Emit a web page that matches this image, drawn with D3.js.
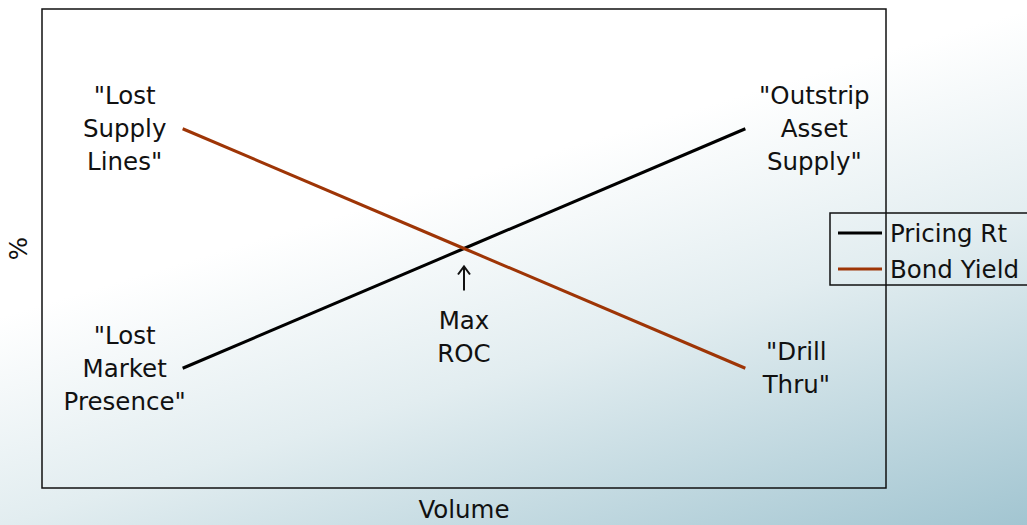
<!DOCTYPE html>
<html>
<head>
<meta charset="utf-8">
<script src="https://cdn.jsdelivr.net/npm/d3@7"></script>
<style>
  html, body { margin: 0; padding: 0; }
  svg { display: block; font-family: "DejaVu Sans", Verdana, sans-serif; }
</style>
</head>
<body>
<div id="chart"></div>
<script>
// Chart data
const volumes = ["low", "mid", "high"];
const pricingRt = [2.5, 5, 7.5];
const bondYield = [7.5, 5, 2.5];
const seriesNames = ["Pricing Rt", "Bond Yield"];
const seriesColors = ["#000000", "#9e3506"];

// Callout labels: anchored at a category/value, placed left / right / below
const callouts = [
  { text: ["\"Lost", "Supply", "Lines\""], cat: "low", val: 7.5, side: "left" },
  { text: ["\"Lost", "Market", "Presence\""], cat: "low", val: 2.5, side: "left" },
  { text: ["\"Outstrip", "Asset", "Supply\""], cat: "high", val: 7.5, side: "right" },
  { text: ["\"Drill", "Thru\""], cat: "high", val: 2.5, side: "right" },
  { text: ["Max", "ROC"], cat: "mid", val: 5, side: "below" }
];

const width = 1027, height = 525;
const margin = { top: 9, right: 141, bottom: 37, left: 42 };
const lineH = 33;
const fs = 24.5;

const svg = d3.select("#chart")
  .append("svg")
  .attr("width", width)
  .attr("height", height);

// Background gradient (white top, light blue toward bottom right)
const defs = svg.append("defs");
const grad = defs.append("linearGradient")
  .attr("id", "bg")
  .attr("gradientUnits", "userSpaceOnUse")
  .attr("x1", 0).attr("y1", 0)
  .attr("x2", 229).attr("y2", 765);
grad.append("stop").attr("offset", "0%").attr("stop-color", "#ffffff");
grad.append("stop").attr("offset", "38%").attr("stop-color", "#ffffff");
grad.append("stop").attr("offset", "63%").attr("stop-color", "#e2edf0");
grad.append("stop").attr("offset", "100%").attr("stop-color", "#a2c5d1");

svg.append("rect")
  .attr("width", width).attr("height", height)
  .attr("fill", "url(#bg)");

const x = d3.scalePoint()
  .domain(volumes)
  .range([margin.left, width - margin.right])
  .padding(0.5);

const y = d3.scaleLinear()
  .domain([0, 10])
  .range([height - margin.bottom, margin.top]);

// Plot frame
svg.append("rect")
  .attr("x", margin.left)
  .attr("y", margin.top)
  .attr("width", width - margin.left - margin.right)
  .attr("height", height - margin.top - margin.bottom)
  .attr("fill", "none")
  .attr("stroke", "#111")
  .attr("stroke-width", 1.5);

// Lines
const line = d3.line()
  .x((d, i) => x(volumes[i]))
  .y(d => y(d));

[pricingRt, bondYield].forEach((s, i) => {
  svg.append("path")
    .datum(s)
    .attr("d", line)
    .attr("fill", "none")
    .attr("stroke", seriesColors[i])
    .attr("stroke-width", 3);
});

// Callout labels
callouts.forEach(c => {
  const px = x(c.cat), py = y(c.val);
  let cx, cy;
  if (c.side === "left") { cx = px - 58; cy = py - (c.text.length - 1) * lineH / 2; }
  else if (c.side === "right") { cx = px + (c.text.length === 2 ? 51 : 69); cy = py - (c.text.length - 1) * lineH / 2; }
  else { cx = px; cy = py + 72; }
  const t = svg.append("text")
    .attr("text-anchor", "middle")
    .attr("font-size", fs)
    .attr("fill", "#111");
  c.text.forEach((s, k) => {
    t.append("tspan")
      .attr("x", cx)
      .attr("y", cy + k * lineH)
      .attr("dy", "0.35em")
      .text(s);
  });
  if (c.side === "below") {
    // arrow pointing up at the crossing
    svg.append("line")
      .attr("x1", px).attr("x2", px)
      .attr("y1", py + 42).attr("y2", py + 19)
      .attr("stroke", "#111").attr("stroke-width", 2);
    svg.append("path")
      .attr("d", `M${px - 6},${py + 26} L${px},${py + 18} L${px + 6},${py + 26}`)
      .attr("fill", "none")
      .attr("stroke", "#111").attr("stroke-width", 2);
  }
});

// Axis titles
svg.append("text")
  .attr("x", (margin.left + width - margin.right) / 2)
  .attr("y", height - 16)
  .attr("text-anchor", "middle")
  .attr("dy", "0.35em")
  .attr("font-size", fs)
  .attr("fill", "#111")
  .text("Volume");

svg.append("text")
  .attr("transform", `translate(18, ${y(5)}) rotate(-90)`)
  .attr("text-anchor", "middle")
  .attr("dy", "0.35em")
  .attr("font-size", fs)
  .attr("fill", "#111")
  .text("%");

// Legend
const legend = svg.append("g").attr("transform", "translate(830, 213)");
legend.append("rect")
  .attr("width", 210).attr("height", 72)
  .attr("fill", "none")
  .attr("stroke", "#111")
  .attr("stroke-width", 1.5);
seriesNames.forEach((n, i) => {
  const ly = 20 + i * 36;
  legend.append("line")
    .attr("x1", 8).attr("x2", 52)
    .attr("y1", ly).attr("y2", ly)
    .attr("stroke", seriesColors[i])
    .attr("stroke-width", 3);
  legend.append("text")
    .attr("x", 60).attr("y", ly)
    .attr("dy", "0.35em")
    .attr("font-size", fs)
    .attr("fill", "#111")
    .text(n);
});
</script>
</body>
</html>
